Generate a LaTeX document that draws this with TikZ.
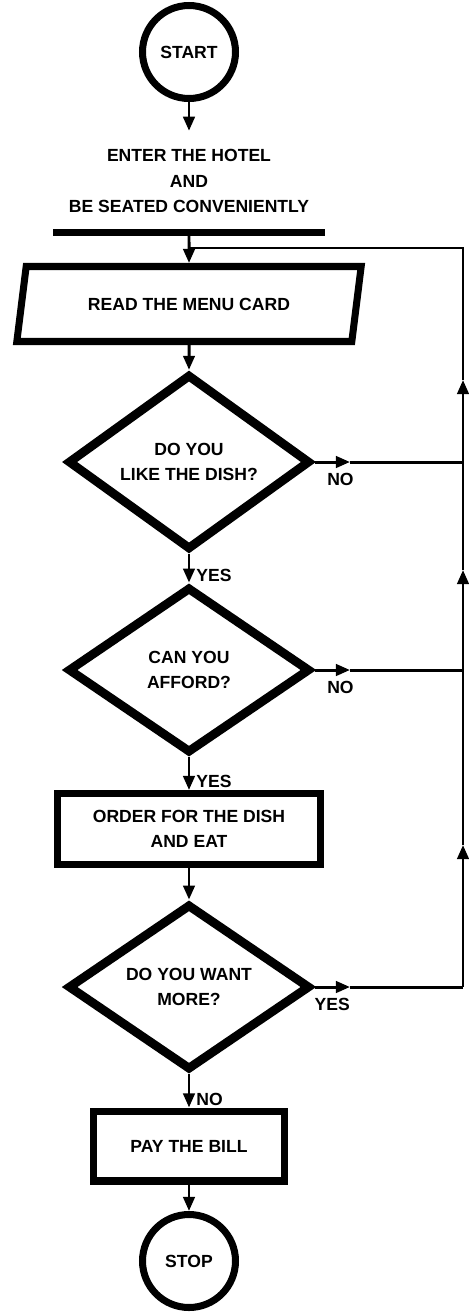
\documentclass[tikz,border=0pt]{standalone}
\usepackage{fontspec}
\setmainfont{Liberation Sans}
\usetikzlibrary{shapes.geometric, arrows.meta}

\begin{document}
\begin{tikzpicture}[x=0.02cm, y=-0.02cm, >={Triangle[width=6.5pt,length=8pt]},
    every node/.style={font=\bfseries\fontsize{10}{14.5}\selectfont, align=center},
    term/.style={draw, circle, line width=4pt, minimum size=1.86cm, inner sep=0pt},
    box/.style={draw, rectangle, line width=4pt, inner sep=0pt},
    test/.style={draw, diamond, line width=5pt, minimum width=4.85cm, minimum height=3.32cm, inner sep=0pt},
    flow/.style={line width=1.7pt}]
    \useasboundingbox (0,0) rectangle (468,1312);

    % Noeuds principaux
    \node[term] (start) at (189,52) {START};
    \node (enter) at (189,181) {ENTER THE HOTEL\\AND\\BE SEATED CONVENIENTLY};
    \node[fill, rectangle, minimum width=5.46cm, minimum height=0.14cm, inner sep=0pt] (bar) at (189,232) {};
    \node[draw, trapezium, trapezium left angle=65, trapezium right angle=115, trapezium stretches,
          line width=4pt, minimum width=6.9cm, minimum height=1.5cm, inner sep=0pt] (menu) at (189,304) {READ THE MENU CARD};
    \node[test] (like) at (189,462) {DO YOU\\LIKE THE DISH?};
    \node[test] (afford) at (189,670) {CAN YOU\\AFFORD?};
    \node[box, minimum width=5.26cm, minimum height=1.42cm] (order) at (189,829) {ORDER FOR THE DISH\\AND EAT};
    \node[test] (more) at (189,987) {DO YOU WANT\\MORE?};
    \node[box, minimum width=3.84cm, minimum height=1.4cm] (bill) at (189,1146) {PAY THE BILL};
    \node[term] (stop) at (189,1261) {STOP};

    % Points de la boucle
    \coordinate (top) at (463,248);
    \coordinate (j) at (189,248);
    \coordinate (n1) at (350,462);  \coordinate (r1) at (463,462);  \coordinate (u1) at (463,380);
    \coordinate (n2) at (350,670);  \coordinate (r2) at (463,670);  \coordinate (u2) at (463,570);
    \coordinate (n3) at (350,987);  \coordinate (r3) at (463,987);  \coordinate (u3) at (463,845);

    % Flux principal
    \draw[flow, ->, shorten >=7pt] (start) -- (enter);
    \draw[flow, ->] (bar) -- (menu);
    \draw[flow, ->] (menu) -- (like);
    \draw[flow, ->] (like) -- node[right, pos=0.75] {YES} (afford);
    \draw[flow, ->] (afford) -- node[right, pos=0.75] {YES} (order);
    \draw[flow, ->] (order) -- (more);
    \draw[flow, ->] (more) -- node[right, pos=0.75] {NO} (bill);
    \draw[flow, ->] (bill) -- (stop);

    % Retour
    \draw[flow, ->] (like.east) -- node[below=2pt, pos=0.73] {NO} (n1);
    \draw[flow] (n1) -- (r1);
    \draw[flow, ->] (afford.east) -- node[below=2pt, pos=0.73] {NO} (n2);
    \draw[flow] (n2) -- (r2);
    \draw[flow, ->] (more.east) -- node[below=2pt, pos=0.5] {YES} (n3);
    \draw[flow] (n3) -- (r3);
    \draw[flow, ->] (r3) -- (u3);
    \draw[flow] (u3) -- (r2);
    \draw[flow, ->] (r2) -- (u2);
    \draw[flow] (u2) -- (r1);
    \draw[flow, ->] (r1) -- (u1);
    \draw[flow] (u1) -- (top) -- (j);
\end{tikzpicture}
\end{document}
